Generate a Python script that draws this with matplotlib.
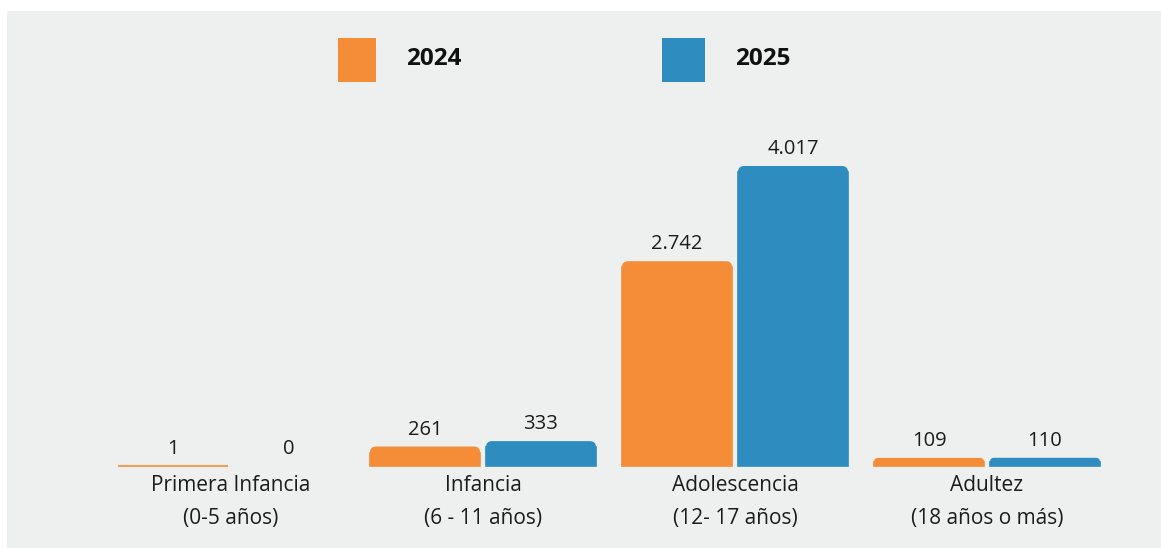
import matplotlib.pyplot as plt
from matplotlib.patches import FancyBboxPatch, Rectangle

plt.rcParams['font.family'] = ['Open Sans', 'DejaVu Sans']

# Casos por grupo de edad
grupos = ['Primera Infancia\n(0-5 años)', 'Infancia\n(6 - 11 años)',
          'Adolescencia\n(12- 17 años)', 'Adultez\n(18 años o más)']
anios = ['2024', '2025']
valores_2024 = [1, 261, 2742, 109]
valores_2025 = [0, 333, 4017, 110]

naranja = '#f58c37'
azul = '#2e8cbe'
fondo = '#edf0ef'
texto = '#1c1c1c'

W, H = 1161, 548
fig = plt.figure(figsize=(W / 100, H / 100), dpi=100, facecolor='white')
ax = fig.add_axes([7 / W, 0, 1 - 7 / W, 537 / H])
ax.set_facecolor(fondo)
for s in ax.spines.values():
    s.set_visible(False)
ax.set_xticks([])
ax.set_yticks([])

# escala: 252 px por grupo, 4017 casos ~ 300 px
px_x = 252
px_y = 300 / 4017
ax.set_xlim(-(231 - 7) / px_x, (W - 231) / px_x)
ax.set_ylim(-82 / px_y, 455 / px_y)

ancho = 110 / px_x
desp = 58 / px_x
radio_px = 6


def barra(x, h, color):
    # barra con esquinas superiores redondeadas
    r = min(radio_px, h * px_y / 2)
    rx = r / px_x
    ry = r / px_y
    if rx > 0:
        ax.add_patch(FancyBboxPatch((x - ancho / 2, 0), ancho, h,
                                    boxstyle=f'round,pad=0,rounding_size={rx}',
                                    mutation_aspect=ry / rx,
                                    facecolor=color, edgecolor='none'))
    ax.add_patch(Rectangle((x - ancho / 2, 0), ancho, max(h - ry, 0),
                           facecolor=color, edgecolor=color if h > 0 else 'none',
                           linewidth=1.2))


def etiqueta(v):
    return f'{v:,}'.replace(',', '.')


for i, (a, b) in enumerate(zip(valores_2024, valores_2025)):
    for x, v, c in ((i - desp, a, naranja), (i + desp, b, azul)):
        barra(x, v, c)
        ax.annotate(etiqueta(v), (x, v), xytext=(0, 5), textcoords='offset points',
                    ha='center', va='bottom', fontsize=14.5, color=texto)
    ax.text(i, -9 / px_y, grupos[i], ha='center', va='top', fontsize=15,
            color=texto, linespacing=1.78)

# leyenda
for (x0, x1), txt, c in (((338, 376), anios[0], naranja), ((662, 705), anios[1], azul)):
    fig.patches.append(Rectangle((x0 / W, 1 - 82 / H), (x1 - x0) / W, 44 / H,
                                 transform=fig.transFigure, facecolor=c, edgecolor='none'))
    fig.text((x1 + 30) / W, 1 - 59 / H, txt, ha='left', va='center',
             fontsize=17.5, fontweight='bold', color='#111111')

fig.savefig('out.png', dpi=100, facecolor='white')
